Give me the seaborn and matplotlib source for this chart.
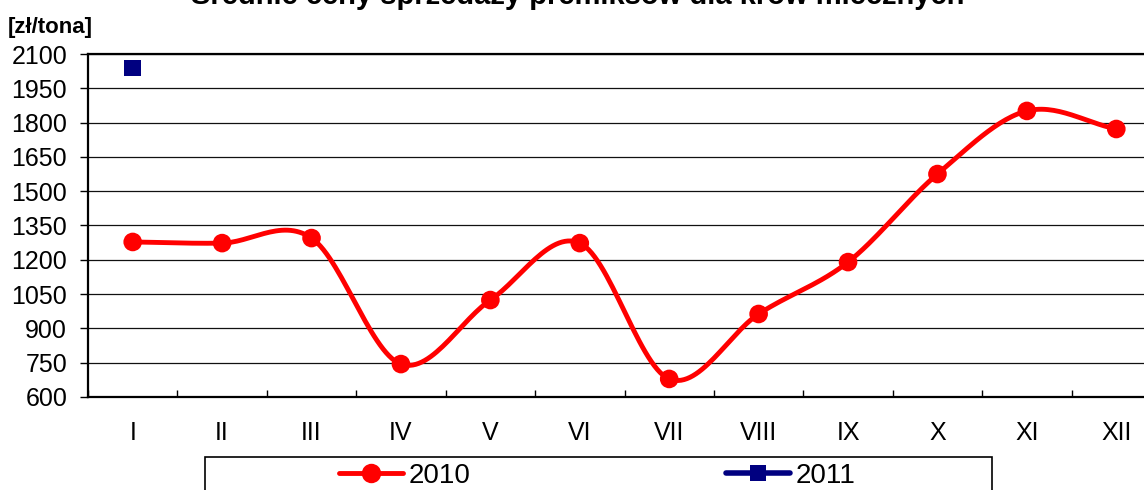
import numpy as np
import pandas as pd
import matplotlib
matplotlib.use("Agg")
import matplotlib.pyplot as plt
import seaborn as sns
from matplotlib.lines import Line2D
from matplotlib.patches import Rectangle

# data
months = ["I", "II", "III", "IV", "V", "VI", "VII", "VIII", "IX", "X", "XI", "XII"]
prices_2010 = [1278, 1273, 1295, 744, 1024, 1273, 679, 963, 1190, 1575, 1851, 1772]
prices_2011 = [2039]
y_ticks = [600, 750, 900, 1050, 1200, 1350, 1500, 1650, 1800, 1950, 2100]

title = "Średnie ceny sprzedaży premiksów dla krów mlecznych"
unit_label = "[zł/tona]"

red = "#FF0000"
navy = "#000080"

sns.set_theme(style="white")
plt.rcParams["font.family"] = ["Liberation Sans", "DejaVu Sans"]
plt.rcParams["text.color"] = "black"
plt.rcParams["xtick.color"] = "black"
plt.rcParams["ytick.color"] = "black"


def smooth(xs, ys, steps=30):
    # catmull-rom curve through the points, like excel's smoothed line
    xs = np.asarray(xs, float)
    ys = np.asarray(ys, float)
    px = np.concatenate([[2 * xs[0] - xs[1]], xs, [2 * xs[-1] - xs[-2]]])
    py = np.concatenate([[2 * ys[0] - ys[1]], ys, [2 * ys[-1] - ys[-2]]])
    out_x, out_y = [], []
    for i in range(1, len(px) - 2):
        t = np.linspace(0, 1, steps, endpoint=False)
        for p, out in ((px, out_x), (py, out_y)):
            p0, p1, p2, p3 = p[i - 1], p[i], p[i + 1], p[i + 2]
            out.extend(0.5 * (2 * p1 + (-p0 + p2) * t
                              + (2 * p0 - 5 * p1 + 4 * p2 - p3) * t ** 2
                              + (-p0 + 3 * p1 - 3 * p2 + p3) * t ** 3))
    out_x.append(xs[-1])
    out_y.append(ys[-1])
    return np.array(out_x), np.array(out_y)


x_pos = np.arange(len(months))
df10 = pd.DataFrame({"x": x_pos, "price": prices_2010})
df11 = pd.DataFrame({"x": x_pos[:len(prices_2011)], "price": prices_2011})

fig = plt.figure(figsize=(11.44, 4.9), dpi=100)
ax = fig.add_axes([88 / 1144, 1 - 397 / 490, 1073 / 1144, 343 / 490])

sx, sy = smooth(x_pos, prices_2010)
ax.plot(sx, sy, color=red, lw=3.5, zorder=3, solid_capstyle="round")
sns.scatterplot(data=df10, x="x", y="price", ax=ax, color=red, s=180,
                marker="o", edgecolor="none", zorder=4, legend=False)
sns.scatterplot(data=df11, x="x", y="price", ax=ax, color=navy, s=140,
                marker="s", edgecolor="none", zorder=4, legend=False)

ax.set_xlim(-0.5, len(months) - 0.5)
ax.set_ylim(600, 2100)
ax.set_yticks(y_ticks)
ax.set_yticklabels([str(v) for v in y_ticks], fontsize=18)
ax.yaxis.grid(True, color="#111111", lw=0.9)
ax.set_axisbelow(True)

ax.set_xticks(np.arange(-0.5, len(months), 1.0))
ax.set_xticklabels([])
ax.set_xticks(x_pos, minor=True)
ax.set_xticklabels(months, minor=True, fontsize=18)
ax.tick_params(axis="x", which="major", length=5, width=1, direction="in", bottom=True)
ax.tick_params(axis="x", which="minor", length=0, pad=17)
ax.tick_params(axis="y", length=6, width=1, direction="out", left=True, pad=9)
ax.set_xlabel("")
ax.set_ylabel("")

for side in ["left", "bottom", "top"]:
    ax.spines[side].set_color("black")
    ax.spines[side].set_linewidth(1.6)
ax.spines["right"].set_visible(False)

fig.text(578 / 1144, 1 - 4 / 490, title, ha="center", va="baseline",
         fontsize=21, fontweight="bold")
fig.text(8 / 1144, 1 - 27 / 490, unit_label, ha="left", va="center",
         fontsize=16, fontweight="bold")

# legend box below the plot
fig.patches.append(Rectangle((205 / 1144, -0.05), 787 / 1144, 0.05 + 33 / 490,
                             transform=fig.transFigure, fill=False,
                             edgecolor="black", lw=1.2))
handles = [
    Line2D([], [], color=red, lw=3.5, marker="o", markersize=14, markeredgewidth=0),
    Line2D([], [], color=navy, lw=4, marker="s", markersize=11, markeredgewidth=0,
           solid_capstyle="round"),
]
fig.legend(handles, ["2010", "2011"], loc="center", ncol=2,
           bbox_to_anchor=(597 / 1144, 1 - 476 / 490), frameon=False,
           fontsize=20, handlelength=2.3, handletextpad=0.2, columnspacing=9.2)

fig.savefig("out.png", dpi=100)
